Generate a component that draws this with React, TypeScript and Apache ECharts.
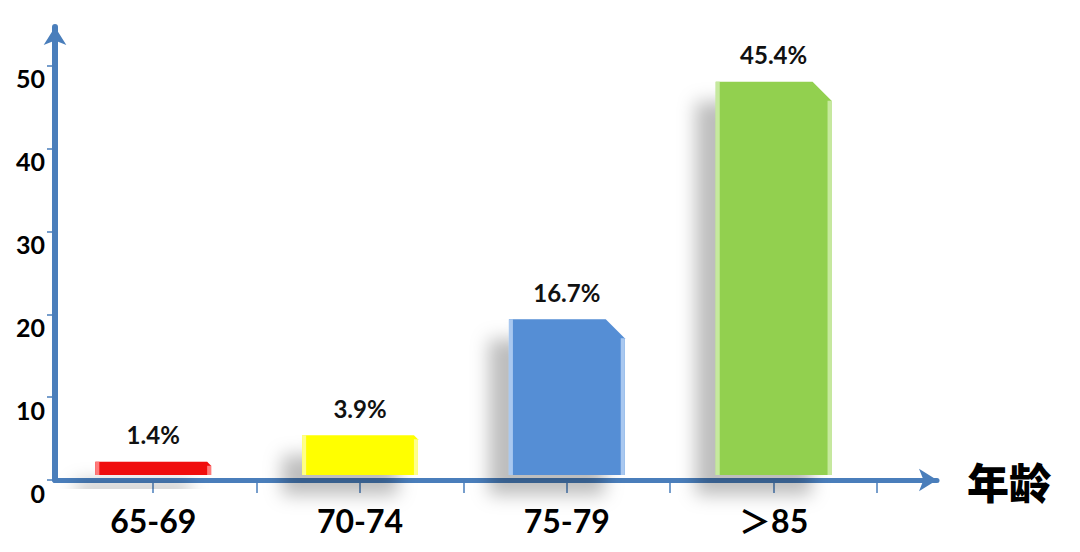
import React, { useRef, useEffect } from "react";
import * as echarts from "echarts";

// age groups, drawn bar heights (axis units), and the printed percentages
const categories = ["65-69", "70-74", "75-79", "＞85"];
const barHeights = [2.2, 5.4, 19.4, 48.1];
const percentLabels = ["1.4%", "3.9%", "16.7%", "45.4%"];
const yTicks = [0, 10, 20, 30, 40, 50];
const xTicks = [1, 2, 3, 4, 5, 6, 7, 8];

const barColors = ["#f01010", "#ffff00", "#558ed5", "#92d050"];
const edgeColors = ["#ff7a7a", "#ffff8a", "#a9c8f0", "#c6e99e"];
const axisColor = "#4a7ebb";
const font = "Lato, 'Noto Sans CJK SC', sans-serif";

export default function App() {
  const chartRef = useRef<HTMLDivElement>(null);

  useEffect(() => {
    if (!chartRef.current) return;
    const chart = echarts.init(chartRef.current, null, { renderer: "svg" });

    const data = barHeights.map((h, i) => [i * 2 + 1, h, i]);

    const renderItem = (params: any, api: any) => {
      const idx = api.value(2);
      const base = api.coord([api.value(0), 0]);
      const top = api.coord([api.value(0), api.value(1)]);
      const w = api.size([1, 0])[0] * 1.12;
      const x0 = base[0] - w / 2;
      const x1 = base[0] + w / 2;
      const y0 = base[1] - 5;
      const y1 = top[1];
      const h = y0 - y1;
      const cut = h > 100 ? 19 : Math.min(4, h * 0.3);
      return {
        type: "group",
        children: [
          {
            type: "polygon",
            shape: {
              points: [
                [x0, y0],
                [x0, y1],
                [x1 - cut, y1],
                [x1, y1 + cut],
                [x1, y0],
              ],
            },
            style: {
              fill: barColors[idx],
              shadowBlur: 18,
              shadowOffsetX: -20,
              shadowOffsetY: 20,
              shadowColor: "rgba(0,0,0,0.26)",
            },
          },
          {
            type: "rect",
            shape: { x: x0, y: y1, width: 4, height: h },
            style: { fill: edgeColors[idx] },
          },
          {
            type: "polygon",
            shape: {
              points: [
                [x1 - 4, y1 + cut],
                [x1, y1 + cut],
                [x1, y0],
                [x1 - 4, y0],
              ],
            },
            style: { fill: edgeColors[idx] },
          },
          {
            type: "text",
            style: {
              x: base[0],
              y: y1 - 27,
              text: percentLabels[idx],
              fill: "#111",
              font: `bold 24px ${font}`,
              align: "center",
              verticalAlign: "middle",
            },
          },
        ],
      };
    };

    chart.setOption({
      animation: false,
      grid: { left: 55, right: 143, top: 27, bottom: 72, containLabel: false },
      xAxis: {
        type: "value",
        min: 0.05,
        max: 8.58,
        name: "年龄",
        nameLocation: "end",
        nameGap: 30,
        nameTextStyle: {
          fontFamily: "'Noto Sans CJK SC', sans-serif",
          fontSize: 42,
          fontWeight: 900,
          color: "#000",
          padding: [14, 0, 0, 0],
        },
        splitLine: { show: false },
        axisLine: {
          lineStyle: { color: axisColor, width: 5 },
          symbol: ["none", "arrow"],
          symbolSize: [17, 18],
        },
        axisTick: {
          customValues: xTicks,
          length: 13,
          lineStyle: { color: axisColor, width: 1.5 },
        },
        axisLabel: {
          customValues: [1, 3, 5, 7],
          formatter: (v: number) => categories[Math.round((v - 1) / 2)] ?? "",
          margin: 24,
          fontFamily: font,
          fontSize: 32,
          fontWeight: "bold",
          color: "#000",
        },
      },
      yAxis: {
        type: "value",
        min: 0,
        max: 54.7,
        splitLine: { show: false },
        axisLine: {
          show: true,
          lineStyle: { color: axisColor, width: 6 },
          symbol: ["none", "arrow"],
          symbolSize: [17, 18],
        },
        axisTick: {
          show: true,
          customValues: yTicks,
          length: 8,
          lineStyle: { color: axisColor, width: 1.5 },
        },
        axisLabel: {
          customValues: yTicks,
          margin: 10,
          verticalAlign: "top",
          fontFamily: font,
          fontSize: 25,
          fontWeight: "bold",
          color: "#000",
        },
      },
      series: [
        {
          type: "custom",
          renderItem,
          data,
          encode: { x: 0, y: 1 },
          clip: false,
        },
      ],
    });

    return () => chart.dispose();
  }, []);

  return (
    <div
      ref={chartRef}
      style={{ position: "fixed", left: 0, top: 0, width: 1080, height: 552, background: "#fff" }}
    />
  );
}
